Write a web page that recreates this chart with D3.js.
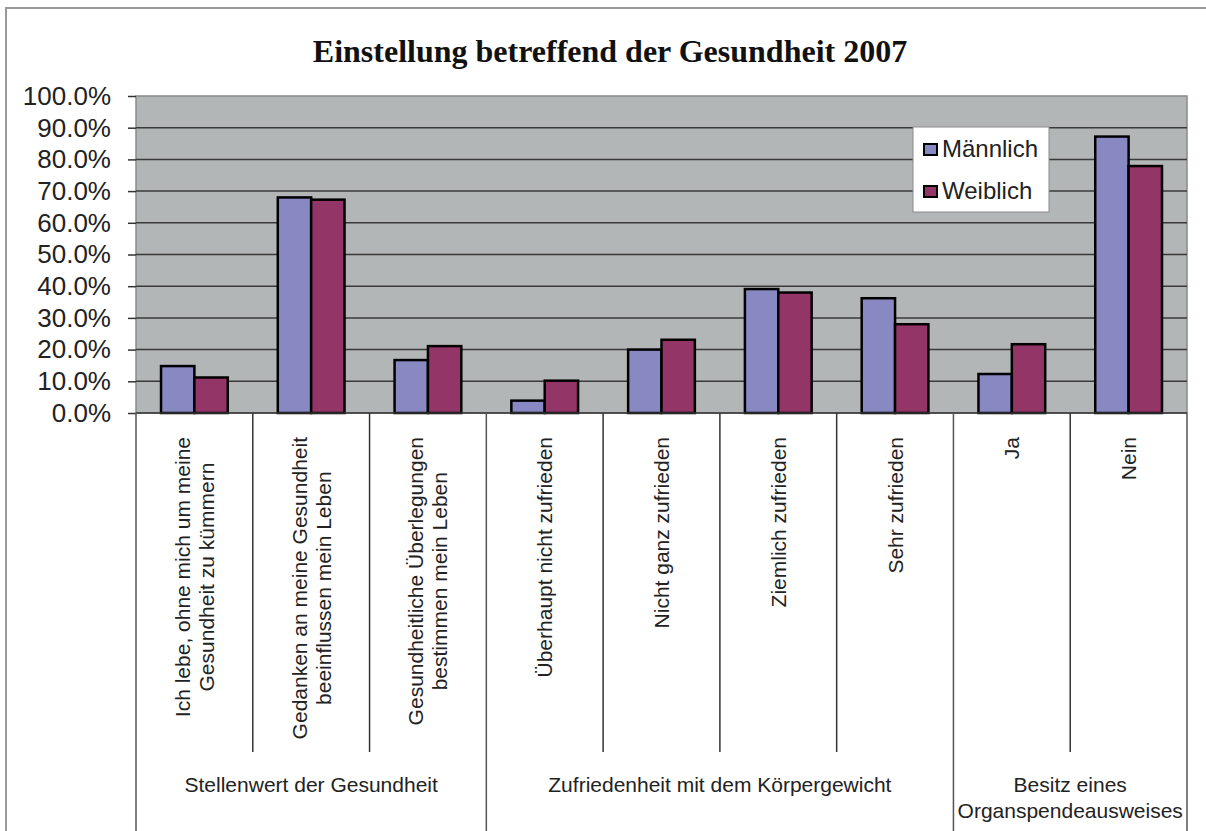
<!DOCTYPE html>
<html>
<head>
<meta charset="utf-8">
<script src="https://cdn.jsdelivr.net/npm/d3@7"></script>
<style>
  html, body { margin: 0; padding: 0; background: #fff; }
  svg { display: block; }
</style>
</head>
<body>
<svg id="chart" width="1206" height="831"></svg>
<script>
// Survey answers 2007, share of respondents by sex
const categories = [
  ["Ich lebe, ohne mich um meine", "Gesundheit zu kümmern"],
  ["Gedanken an meine Gesundheit", "beeinflussen mein Leben"],
  ["Gesundheitliche Überlegungen", "bestimmen mein Leben"],
  ["Überhaupt nicht zufrieden"],
  ["Nicht ganz zufrieden"],
  ["Ziemlich zufrieden"],
  ["Sehr zufrieden"],
  ["Ja"],
  ["Nein"]
];
const groups = [
  { lines: ["Stellenwert der Gesundheit"], from: 0, to: 2 },
  { lines: ["Zufriedenheit mit dem Körpergewicht"], from: 3, to: 6 },
  { lines: ["Besitz eines", "Organspendeausweises"], from: 7, to: 8 }
];
const seriesNames = ["Männlich", "Weiblich"];
const maleValues   = [14.8, 68.0, 16.7, 3.9, 20.0, 39.1, 36.2, 12.3, 87.2];
const femaleValues = [11.2, 67.3, 21.1, 10.2, 23.1, 38.0, 28.0, 21.7, 77.9];
const yTicks = [0, 10, 20, 30, 40, 50, 60, 70, 80, 90, 100];
const title = "Einstellung betreffend der Gesundheit 2007";

const colors = ["#8889c3", "#933566"];
const seriesValues = [maleValues, femaleValues];
const sans = "'Liberation Sans', Arial, sans-serif";

const svg = d3.select("#chart");
const W = 1206, H = 831;
const plot = { left: 136, right: 1187, top: 96, bottom: 413 };

// outer chart frame
svg.append("rect")
  .attr("x", 6).attr("y", 8)
  .attr("width", W + 10).attr("height", H + 10)
  .attr("fill", "#fff").attr("stroke", "#9a9a9a").attr("stroke-width", 2);

// title
svg.append("text")
  .attr("x", 610).attr("y", 62)
  .attr("text-anchor", "middle")
  .attr("font-family", "'Liberation Serif', 'Times New Roman', serif")
  .attr("font-weight", "bold")
  .attr("font-size", 32)
  .attr("fill", "#111")
  .text(title);

const idx = d3.range(categories.length);
const x = d3.scaleBand().domain(idx).range([plot.left, plot.right]).paddingInner(0).paddingOuter(0);
const x1 = d3.scaleBand().domain(d3.range(seriesNames.length)).range([0, x.bandwidth()])
  .paddingInner(0).paddingOuter(0.75);
const y = d3.scaleLinear().domain([0, 100]).range([plot.bottom, plot.top]);

// plot background
svg.append("rect")
  .attr("x", plot.left).attr("y", plot.top)
  .attr("width", plot.right - plot.left).attr("height", plot.bottom - plot.top)
  .attr("fill", "#b3b6b6").attr("stroke", "#8a8a8a").attr("stroke-width", 1.5);

// horizontal gridlines
svg.append("g").selectAll("line")
  .data(yTicks.filter(t => t > 0 && t < 100))
  .join("line")
  .attr("x1", plot.left).attr("x2", plot.right)
  .attr("y1", d => y(d)).attr("y2", d => y(d))
  .attr("stroke", "#3a3a3a").attr("stroke-width", 1.5);

// y axis
const yAxis = d3.axisLeft(y).tickValues(yTicks).tickSize(8).tickPadding(17)
  .tickFormat(d => d3.format(".1f")(d) + "%");
const yg = svg.append("g").attr("transform", `translate(${plot.left},0)`).call(yAxis);
yg.select(".domain").remove();
yg.selectAll(".tick line").attr("stroke", "#333").attr("stroke-width", 1.5);
yg.selectAll(".tick text")
  .attr("font-family", sans)
  .attr("font-size", 26).attr("fill", "#222");

// bars
seriesValues.forEach((vals, s) => {
  svg.append("g").selectAll("rect")
    .data(vals)
    .join("rect")
    .attr("x", (d, i) => x(i) + x1(s))
    .attr("y", d => y(d))
    .attr("width", x1.bandwidth())
    .attr("height", d => y(0) - y(d))
    .attr("fill", colors[s])
    .attr("stroke", "#000").attr("stroke-width", 2.5);
});

// axis lines: baseline across the plot
const axisLines = svg.append("g").attr("stroke", "#333").attr("stroke-width", 1.5);
axisLines.append("line")
  .attr("x1", plot.left).attr("x2", plot.right)
  .attr("y1", plot.bottom).attr("y2", plot.bottom);

// category separators (short) and group separators (to bottom)
const groupEdges = new Set(groups.map(g => g.from).concat([categories.length]));
d3.range(categories.length + 1).forEach(i => {
  const xx = i < categories.length ? x(i) : plot.right;
  axisLines.append("line")
    .attr("x1", xx).attr("x2", xx)
    .attr("y1", plot.bottom)
    .attr("y2", groupEdges.has(i) ? H + 5 : 752)
    .attr("stroke", groupEdges.has(i) ? "#555" : "#333");
});

// rotated category labels, top-aligned below the axis
const labelTop = 437;
const catG = svg.append("g")
  .attr("font-family", sans)
  .attr("font-size", 21).attr("fill", "#222");
categories.forEach((lines, i) => {
  const cx = x(i) + x.bandwidth() / 2;
  const t = catG.append("text").attr("text-anchor", "middle");
  lines.forEach((ln, j) => t.append("tspan").text(ln));
  let maxLen = 0;
  t.selectAll("tspan").each(function () { maxLen = Math.max(maxLen, this.getComputedTextLength()); });
  const cy = labelTop + maxLen / 2;
  const n = lines.length;
  t.attr("transform", `translate(${cx},${cy}) rotate(-90)`);
  t.selectAll("tspan")
    .attr("x", 0)
    .attr("y", (d, j) => (j - (n - 1) / 2) * 24 + 7.5);
});

// group labels
const grpG = svg.append("g")
  .attr("font-family", sans)
  .attr("font-size", 21).attr("fill", "#222").attr("text-anchor", "middle");
groups.forEach(g => {
  const x0 = x(g.from), x2 = x(g.to) + x.bandwidth();
  const t = grpG.append("text");
  g.lines.forEach((ln, j) => {
    t.append("tspan").attr("x", (x0 + x2) / 2).attr("y", 792 + j * 26).text(ln);
  });
});

// legend
const leg = svg.append("g");
leg.append("rect")
  .attr("x", 913).attr("y", 127).attr("width", 136).attr("height", 85)
  .attr("fill", "#fff").attr("stroke", "#8a8a8a").attr("stroke-width", 1);
seriesNames.forEach((name, s) => {
  const base = 157 + s * 42;
  leg.append("rect")
    .attr("x", 924).attr("y", base - 13).attr("width", 13).attr("height", 11)
    .attr("fill", colors[s]).attr("stroke", "#000").attr("stroke-width", 2);
  leg.append("text")
    .attr("x", 942).attr("y", base)
    .attr("font-family", sans)
    .attr("font-size", 24).attr("fill", "#222")
    .text(name);
});
</script>
</body>
</html>
